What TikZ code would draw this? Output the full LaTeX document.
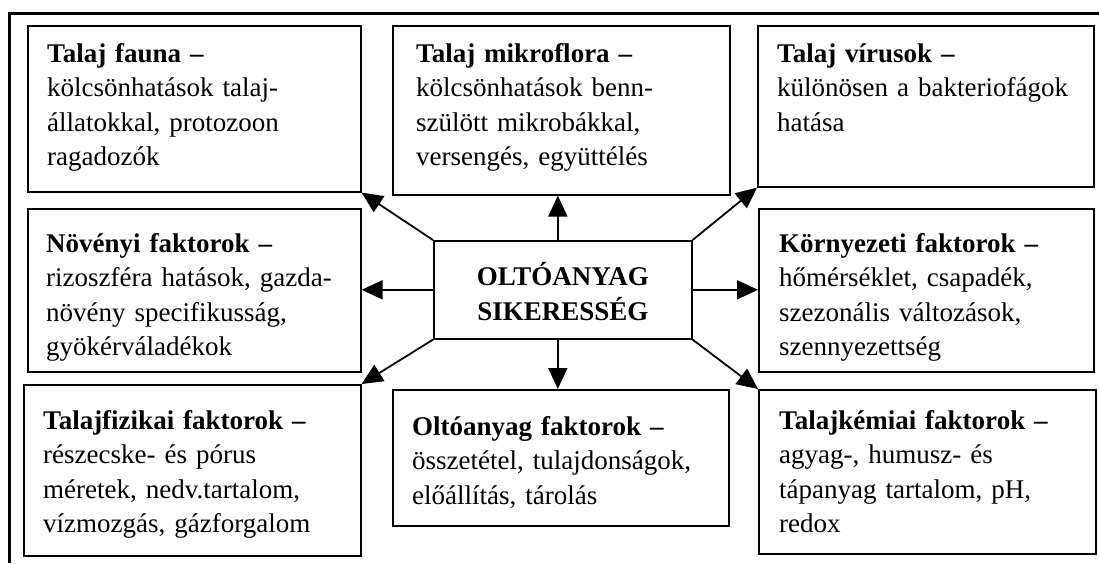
\documentclass[tikz,border=0pt]{standalone}
\usepackage{fontspec}
\setmainfont{Liberation Serif}
\usetikzlibrary{arrows.meta}
\begin{document}
\begin{tikzpicture}[x=1pt,y=-1pt,
  box/.style={draw, line width=1.6pt, inner sep=0pt, anchor=north west, fill=white},
  txt/.style={anchor=base west, align=left, inner sep=0pt, text width=330pt,
              font=\fontsize{27}{34.5}\selectfont},
  ctr/.style={align=center, inner sep=0pt, font=\fontsize{27}{35}\selectfont\bfseries},
  arr/.style={line width=1.8pt, -{Triangle[length=21pt,width=19pt]}},
  frame/.style={line width=3pt}]
\useasboundingbox (0,0) rectangle (1099,563);
\fill[white] (0,0) rectangle (1099,563);
\draw[frame] (9.5,563) -- (9.5,13.5) -- (1099,13.5);

% boxes
\node[box, minimum width=333pt, minimum height=166pt] (b1) at (27,25) {};
\node[box, minimum width=337pt, minimum height=169pt] (b2) at (392,25) {};
\node[box, minimum width=336pt, minimum height=161pt] (b3) at (757,25) {};
\node[box, minimum width=333pt, minimum height=163pt] (b4) at (27,208) {};
\node[box, minimum width=258pt, minimum height=98pt] (c) at (433,240) {};
\node[box, minimum width=335pt, minimum height=163pt] (b6) at (758,208) {};
\node[box, minimum width=337pt, minimum height=171pt] (b7) at (23,384) {};
\node[box, minimum width=336pt, minimum height=136pt] (b8) at (392,389) {};
\node[box, minimum width=337pt, minimum height=164pt] (b9) at (758,389) {};

% texts
\node[txt] (t1) at (47,62) {\textbf{Talaj fauna –}\\kölcsönhatások talaj-\\állatokkal, protozoon\\ragadozók};
\node[txt] (t2) at (416,62) {\textbf{Talaj mikroflora –}\\kölcsönhatások benn-\\szülött mikrobákkal,\\versengés, együttélés};
\node[txt] (t3) at (777,62) {\textbf{Talaj vírusok –}\\különösen a bakteriofágok\\hatása};
\node[txt] (t4) at (46,252) {\textbf{Növényi faktorok –}\\rizoszféra hatások, gazda-\\növény specifikusság,\\gyökérváladékok};
\node[ctr] (tc) at ([yshift=-2pt]c.center) {OLTÓANYAG\\SIKERESSÉG};
\node[txt] (t6) at (779,252) {\textbf{Környezeti faktorok –}\\hőmérséklet, csapadék,\\szezonális változások,\\szennyezettség};
\node[txt] (t7) at (43,429) {\textbf{Talajfizikai faktorok –}\\részecske- és pórus\\méretek, nedv.tartalom,\\vízmozgás, gázforgalom};
\node[txt] (t8) at (412,435) {\textbf{Oltóanyag faktorok –}\\összetétel, tulajdonságok,\\előállítás, tárolás};
\node[txt] (t9) at (779,429) {\textbf{Talajkémiai faktorok –}\\agyag-, humusz- és\\tápanyag tartalom, pH,\\redox};

% connectors
\coordinate (ct) at ([xshift=-5pt]c.north);
\coordinate (cb) at ([xshift=-5pt]c.south);
\draw[arr] (c.north west) -- (b1.south east);
\draw[arr] (ct) -- (ct |- b2.south);
\draw[arr] (c.north east) -- (b3.south west);
\draw[arr] (c.west) -- (c.west -| b4.east);
\draw[arr] (c.east) -- (c.east -| b6.west);
\draw[arr] (c.south west) -- (b7.north east);
\draw[arr] (cb) -- (cb |- b8.north);
\draw[arr] (c.south east) -- (b9.north west);
\end{tikzpicture}
\end{document}
